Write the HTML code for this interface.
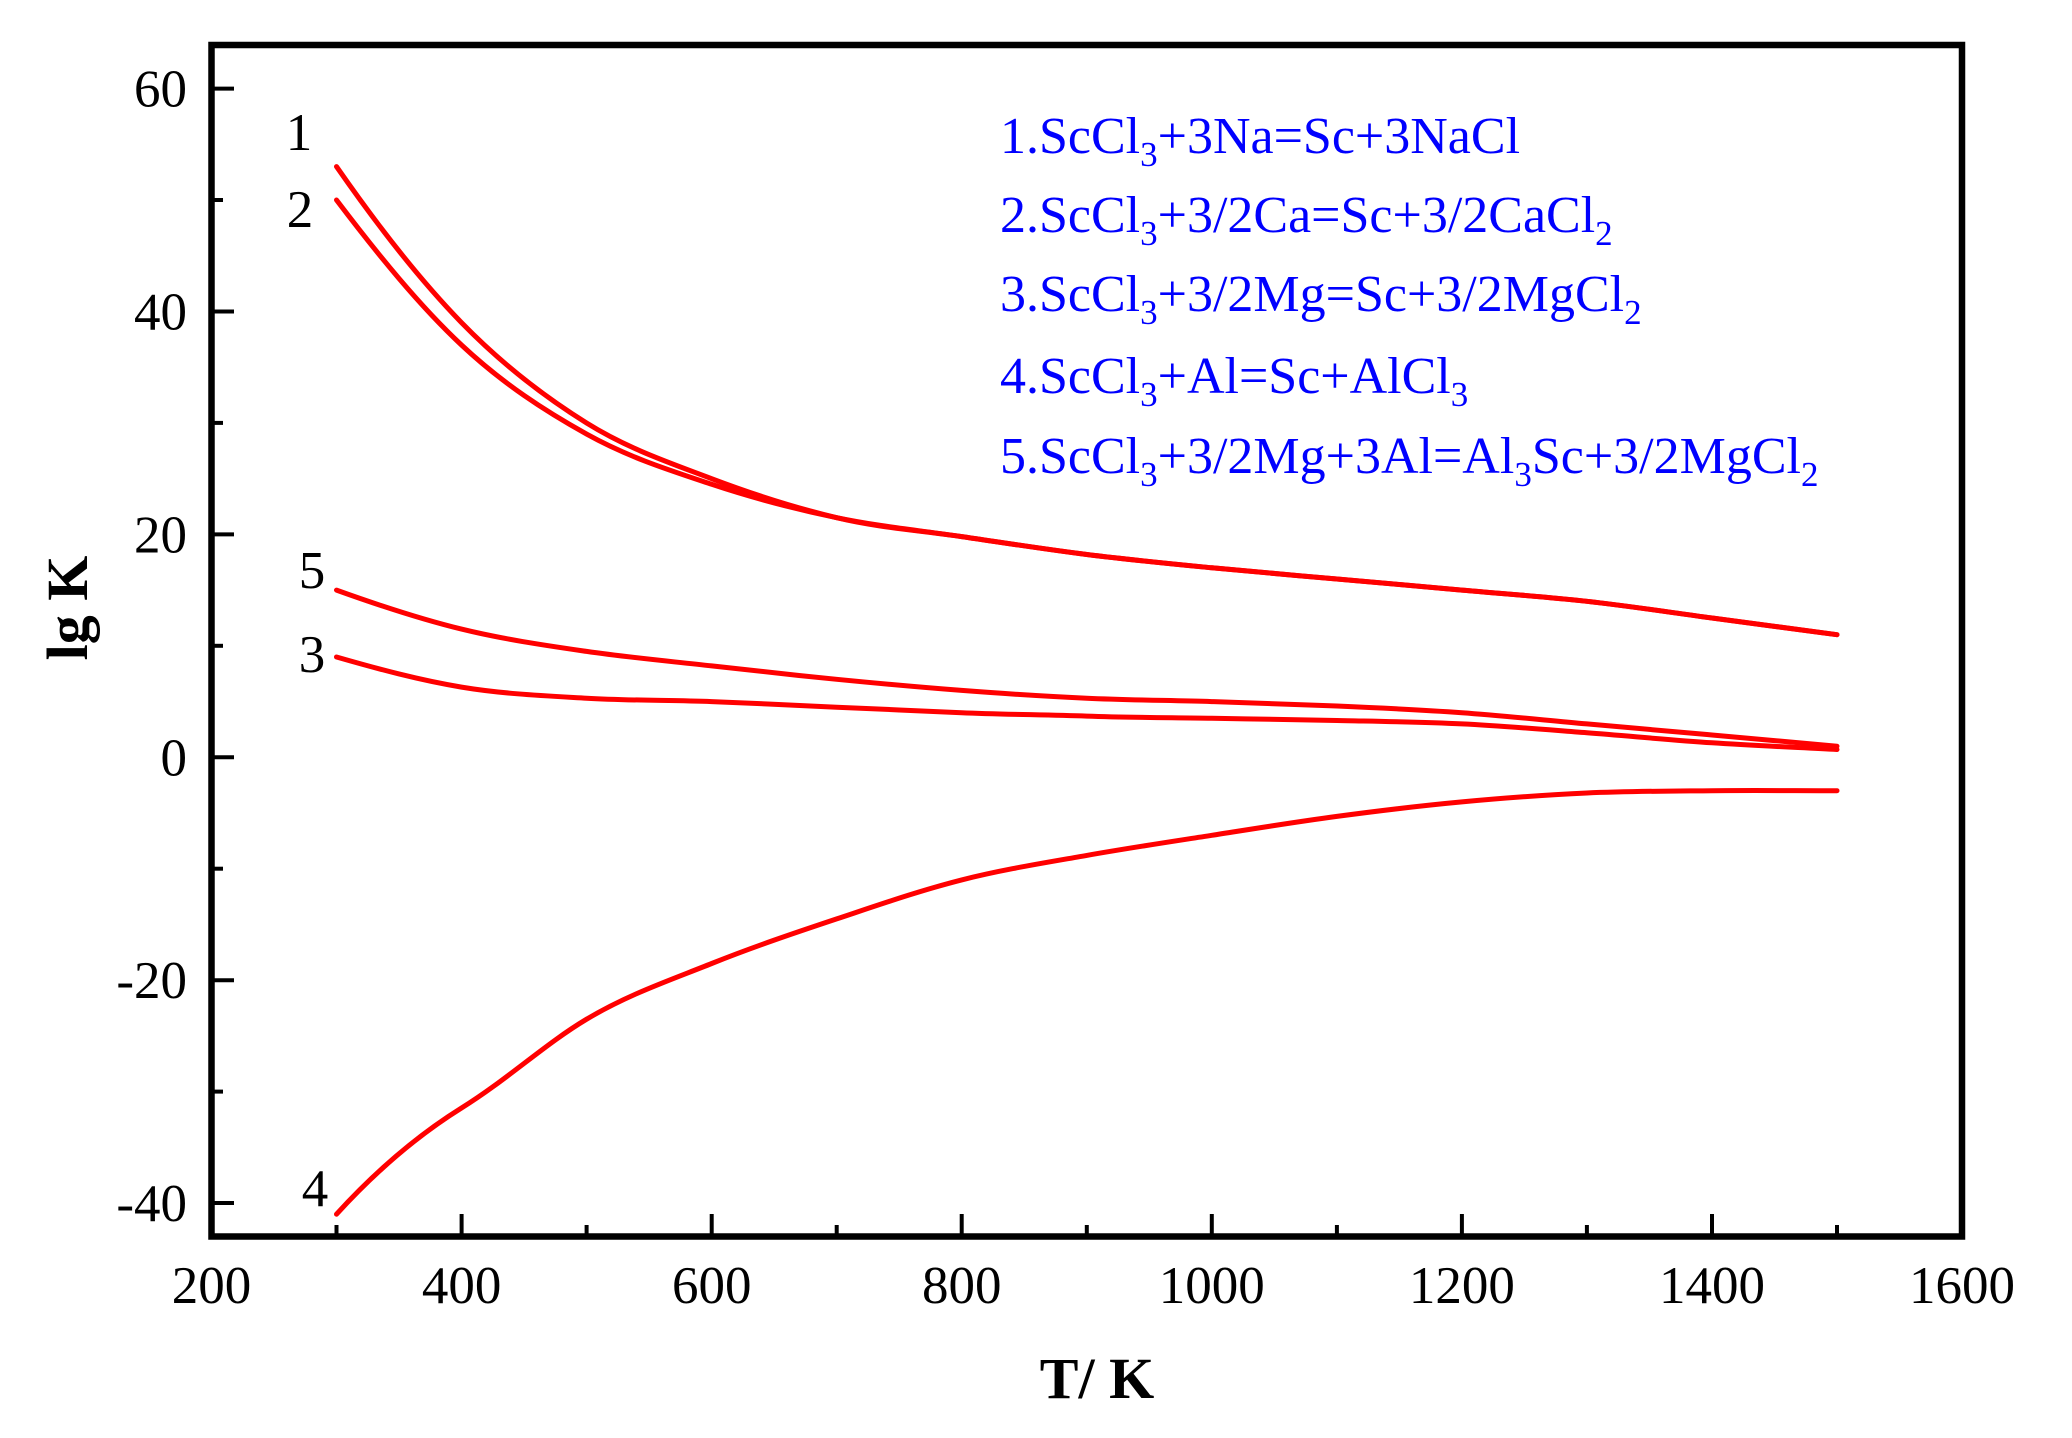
<!DOCTYPE html>
<html><head><meta charset="utf-8"><style>
body{margin:0;background:#fff;width:2072px;height:1438px;overflow:hidden;position:relative;font-family:"Liberation Serif",serif}
</style></head><body>
<svg width="2072" height="1438" style="position:absolute;left:0;top:0" font-family="Liberation Serif, serif">
<rect x="211.5" y="45" width="1750.5" height="1191.5" fill="none" stroke="#000" stroke-width="6.5"/>
<g stroke="#000" stroke-width="4">
<line x1="461.6" y1="1236" x2="461.6" y2="1214"/><line x1="711.7" y1="1236" x2="711.7" y2="1214"/><line x1="961.7" y1="1236" x2="961.7" y2="1214"/><line x1="1211.8" y1="1236" x2="1211.8" y2="1214"/><line x1="1461.9" y1="1236" x2="1461.9" y2="1214"/><line x1="1712" y1="1236" x2="1712" y2="1214"/>
<line x1="336.5" y1="1236" x2="336.5" y2="1225"/><line x1="586.6" y1="1236" x2="586.6" y2="1225"/><line x1="836.7" y1="1236" x2="836.7" y2="1225"/><line x1="1086.8" y1="1236" x2="1086.8" y2="1225"/><line x1="1336.9" y1="1236" x2="1336.9" y2="1225"/><line x1="1586.9" y1="1236" x2="1586.9" y2="1225"/><line x1="1837" y1="1236" x2="1837" y2="1225"/>
<line x1="212" y1="88.6" x2="234" y2="88.6"/><line x1="212" y1="311.5" x2="234" y2="311.5"/><line x1="212" y1="534.4" x2="234" y2="534.4"/><line x1="212" y1="757.3" x2="234" y2="757.3"/><line x1="212" y1="980.2" x2="234" y2="980.2"/><line x1="212" y1="1203" x2="234" y2="1203"/>
<line x1="212" y1="200" x2="223" y2="200"/><line x1="212" y1="422.9" x2="223" y2="422.9"/><line x1="212" y1="645.8" x2="223" y2="645.8"/><line x1="212" y1="868.7" x2="223" y2="868.7"/><line x1="212" y1="1091.6" x2="223" y2="1091.6"/>
</g>
<g font-size="53" text-anchor="end" fill="#000">
<text x="187" y="106.6">60</text><text x="187" y="329.5">40</text><text x="187" y="552.4">20</text><text x="187" y="775.3">0</text><text x="187" y="998.2">-20</text><text x="187" y="1221">-40</text>
</g>
<g font-size="53" text-anchor="middle" fill="#000">
<text x="211.5" y="1303">200</text><text x="461.6" y="1303">400</text><text x="711.7" y="1303">600</text><text x="961.7" y="1303">800</text><text x="1211.8" y="1303">1000</text><text x="1461.9" y="1303">1200</text><text x="1712" y="1303">1400</text><text x="1962" y="1303">1600</text>
</g>
<text x="1097" y="1398" font-size="58" font-weight="bold" text-anchor="middle">T/ K</text>
<text transform="translate(87,608) rotate(-90)" font-size="58" font-weight="bold" text-anchor="middle">lg K</text>
<g font-size="53" text-anchor="middle">
<text x="299" y="150">1</text><text x="300" y="227">2</text><text x="312" y="588">5</text><text x="312" y="672">3</text><text x="315" y="1206">4</text>
</g>
<g font-size="52" fill="#0000ff">
<text x="1000" y="153">1.ScCl<tspan font-size="35" dy="13">3</tspan><tspan dy="-13">+3Na=Sc+3NaCl</tspan></text>
<text x="1000" y="232">2.ScCl<tspan font-size="35" dy="13">3</tspan><tspan dy="-13">+3/2Ca=Sc+3/2CaCl</tspan><tspan font-size="35" dy="13">2</tspan></text>
<text x="1000" y="311">3.ScCl<tspan font-size="35" dy="13">3</tspan><tspan dy="-13">+3/2Mg=Sc+3/2MgCl</tspan><tspan font-size="35" dy="13">2</tspan></text>
<text x="1000" y="393">4.ScCl<tspan font-size="35" dy="13">3</tspan><tspan dy="-13">+Al=Sc+AlCl</tspan><tspan font-size="35" dy="13">3</tspan></text>
<text x="1000" y="473">5.ScCl<tspan font-size="35" dy="13">3</tspan><tspan dy="-13">+3/2Mg+3Al=Al</tspan><tspan font-size="35" dy="13">3</tspan><tspan dy="-13">Sc+3/2MgCl</tspan><tspan font-size="35" dy="13">2</tspan></text>
</g>
<g fill="none" stroke="#ff0000" stroke-width="5" stroke-linejoin="round" stroke-linecap="round">
<path d="M336.5,166.6 C378.2,226.6 419.9,279.9 461.5,322.6 S544.9,397 586.6,423 S670,462.9 711.7,478.7 S795,507.7 836.7,517.7 S920,530.5 961.7,536.6 S1045.1,549.3 1086.8,554.5 S1170.1,563.7 1211.8,567.8 S1295.2,575.3 1336.9,579 S1420.2,586.4 1461.9,590.1 S1545.2,596.7 1586.9,601.3 S1670.3,612.4 1712,618 S1795.3,629.1 1837,634.7"/>
<path d="M336.5,200 C378.2,255 419.8,306 461.5,345 S544.9,410.9 586.6,434.1 S670,470.4 711.7,484.3 S795,509 836.7,517.7 S920,530.5 961.7,536.6 S1045.1,549.3 1086.8,554.5 S1170.1,563.7 1211.8,567.8 S1295.2,575.3 1336.9,579 S1420.2,586.4 1461.9,590.1 S1545.2,596.7 1586.9,601.3 S1670.3,612.4 1712,618 S1795.3,629.1 1837,634.7"/>
<path d="M336.5,590.1 C378.2,605.1 419.8,618.9 461.5,629.1 S544.9,645.3 586.6,651.4 S670,661.2 711.7,665.9 S795,675.2 836.7,679.3 S920,687.2 961.7,690.4 S1045.1,696.3 1086.8,698.2 S1170.1,700.3 1211.8,701.6 S1295.2,704.2 1336.9,706 S1420.2,709.7 1461.9,712.7 S1545.2,720.2 1586.9,723.9 S1670.3,731.3 1712,735 S1795.3,742.5 1837,746.2"/>
<path d="M336.5,657 C378.2,669 419.8,680.2 461.5,687.1 S544.9,695.8 586.6,698.2 S670,700.1 711.7,701.6 S795,705.4 836.7,707.2 S920,710.9 961.7,712.7 S1045.1,714.6 1086.8,716.1 S1170.1,717.6 1211.8,718.3 S1295.2,719.6 1336.9,720.5 S1420.2,721.9 1461.9,723.9 S1545.2,729.6 1586.9,732.8 S1670.3,740 1712,742.8 S1795.3,747.3 1837,749.5"/>
<path d="M336.5,1214.2 C375,1172 415,1137 461.5,1108 S544.9,1044.1 586.6,1019.2 S670,980.2 711.7,963.5 S795,932.8 836.7,918.9 S920,890.5 961.7,879.9 S1045.1,862.8 1086.8,855.4 S1170.1,841.8 1211.8,835.3 S1295.2,822 1336.9,816.4 S1420.2,805.8 1461.9,801.9 S1545.2,794.9 1586.9,793 S1670.3,791.1 1712,790.7 S1795.3,790.7 1837,790.7"/>
</g>
</svg>
</body></html>
